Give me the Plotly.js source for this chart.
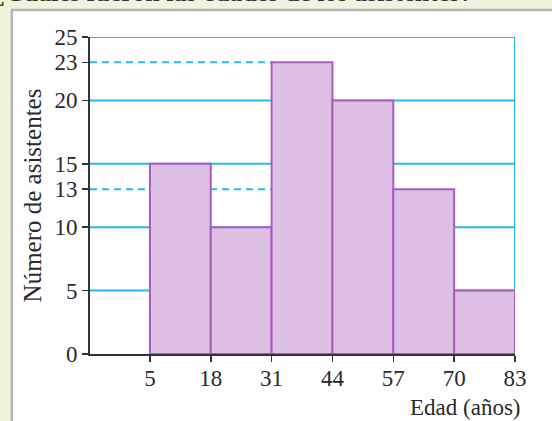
<!DOCTYPE html>
<html>
<head>
<meta charset="utf-8">
<script src="https://cdn.plot.ly/plotly-3.0.1.min.js"></script>
<style>
html,body{margin:0;padding:0;background:#eef5dc;}
#chart{width:552px;height:421px;}
</style>
</head>
<body>
<div id="chart"></div>
<script>
// Data
var binEdges = [5, 18, 31, 44, 57, 70, 83];
var counts = [15, 10, 23, 20, 13, 5];
var yTickVals = [0, 5, 10, 13, 15, 20, 23, 25];
var solidGrid = [5, 10, 15, 20, 25];
var dashedGrid = [13, 23];
var dashedGridEnd = 31;
var xTitle = 'Edad (años)';
var yTitle = 'Número de asistentes';
var headerText = '¿Cuáles fueron las edades de los asistentes?';

var xMin = -7.8, xMax = 83, yMin = 0, yMax = 25;

var mids = [], widths = [];
for (var i = 0; i < counts.length; i++) {
  mids.push((binEdges[i] + binEdges[i + 1]) / 2);
  widths.push(binEdges[i + 1] - binEdges[i]);
}

var blue = '#27b8ec';
var shapes = [];
shapes.push({type:'rect', xref:'paper', yref:'paper', x0:-0.184, x1:1.2, y0:-0.3, y1:1.085,
  fillcolor:'#ffffff', line:{color:'#b4b4b4', width:2.5}, layer:'below'});
solidGrid.forEach(function(v){
  shapes.push({type:'line', xref:'x', yref:'y', x0:xMin, x1:xMax, y0:v, y1:v,
    line:{color:blue, width:2}, layer:'below'});
});
dashedGrid.forEach(function(v){
  shapes.push({type:'line', xref:'x', yref:'y', x0:xMin, x1:dashedGridEnd, y0:v, y1:v,
    line:{color:blue, width:2, dash:'7px,5px'}, layer:'below'});
});
shapes.push({type:'line', xref:'x', yref:'y', x0:xMax, x1:xMax, y0:yMin, y1:yMax,
  line:{color:blue, width:2}, layer:'below'});

var trace = {
  type:'bar', x:mids, y:counts, width:widths,
  marker:{color:'#dcbfe3', line:{color:'#a85cc0', width:2}},
  hoverinfo:'none'
};

var fontFam = 'Liberation Serif, Times New Roman, serif';
var txt = '#2a2a2a';
var layout = {
  width:552, height:421,
  margin:{l:90, r:37, t:37, b:67},
  paper_bgcolor:'#eef5dc',
  plot_bgcolor:'rgba(0,0,0,0)',
  showlegend:false,
  font:{family:fontFam, size:23, color:txt},
  xaxis:{range:[xMin, xMax], tickvals:binEdges, ticktext:binEdges.map(String),
    showgrid:false, zeroline:false, showline:true, linecolor:'#333', linewidth:2,
    ticks:'outside', ticklen:6, tickwidth:1.5, tickcolor:'#333', ticklabelstandoff:-4,
    tickfont:{family:fontFam, size:23, color:txt}},
  yaxis:{range:[yMin, yMax], tickvals:yTickVals, ticktext:yTickVals.map(String),
    showgrid:false, zeroline:false, showline:true, linecolor:'#333', linewidth:2,
    ticks:'outside', ticklen:6, tickwidth:1.5, tickcolor:'#333',
    tickfont:{family:fontFam, size:23, color:txt},
    title:{text:yTitle, font:{family:fontFam, size:25, color:txt}, standoff:6}},
  shapes:shapes,
  annotations:[
    {text:xTitle, xref:'paper', yref:'paper', x:1, y:0, xanchor:'right', yanchor:'middle',
     xshift:8, yshift:-53, showarrow:false, font:{family:fontFam, size:23, color:txt}},
    {text:'<b>'+headerText+'</b>', xref:'paper', yref:'paper', x:0, y:1, xanchor:'right', yanchor:'bottom',
     xshift:385, yshift:28, showarrow:false, font:{family:fontFam, size:26, color:'#333'}}
  ]
};

Plotly.newPlot('chart', [trace], layout, {staticPlot:true, displayModeBar:false});
</script>
</body>
</html>
